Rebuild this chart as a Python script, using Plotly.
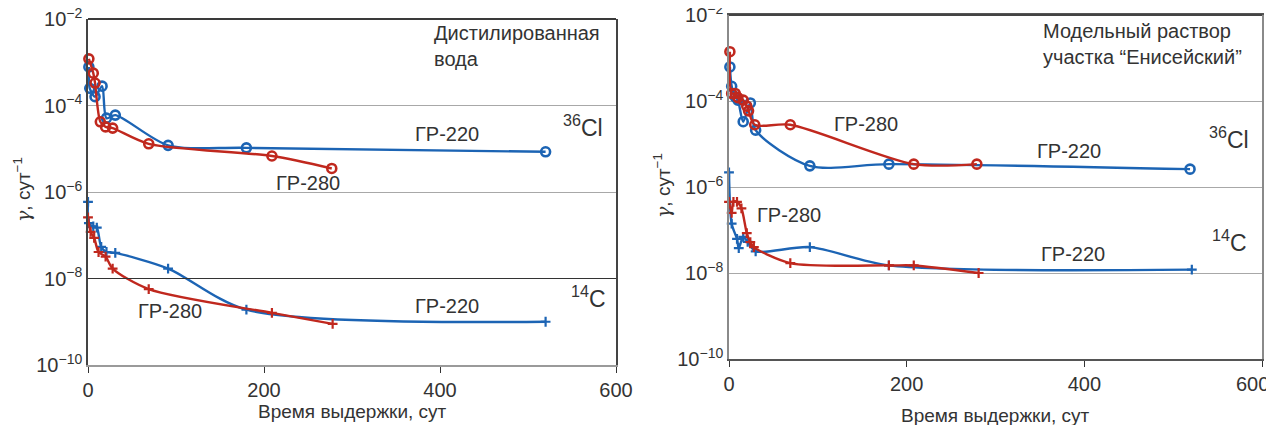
import plotly.graph_objects as go

W, H = 1266, 417   # visible area once the page's 8px body margin is taken off
OFF = 8            # page body margin of the browser

# ---------------- data: left panel (distilled water) ----------------
L_cl220_x = [1, 2, 8, 16, 21, 31, 91, 180, 520]
L_cl220_y = [7.8e-4, 2.5e-4, 1.6e-4, 2.8e-4, 5.1e-5, 6.0e-5, 1.2e-5, 1.05e-5, 8.5e-6]
L_cl280_x = [1, 6, 8, 14, 20, 28, 69, 209, 277]
L_cl280_y = [1.2e-3, 5.6e-4, 3.3e-4, 4.2e-5, 3.2e-5, 3.0e-5, 1.3e-5, 6.8e-6, 3.5e-6]
L_c220_x = [0, 1, 6, 10, 15, 21, 31, 91, 180, 520]
L_c220_y = [5.9e-7, 1.9e-7, 1.6e-7, 1.5e-7, 5.4e-8, 4.1e-8, 3.9e-8, 1.7e-8, 1.9e-9, 1.0e-9]
L_c280_x = [0, 3, 7, 12, 20, 28, 69, 209, 278]
L_c280_y = [2.6e-7, 1.2e-7, 8.7e-8, 4.1e-8, 3.2e-8, 1.7e-8, 5.7e-9, 1.6e-9, 8.9e-10]

# ---------------- data: right panel (model solution) ----------------
R_cl220_x = [1, 3, 7, 10, 16, 24, 30, 91, 180, 519]
R_cl220_y = [6.2e-4, 2.2e-4, 1.25e-4, 1.05e-4, 3.3e-5, 9.0e-5, 2.1e-5, 3.1e-6, 3.4e-6, 2.6e-6]
R_cl280_x = [1, 3, 7, 10, 16, 20, 22, 29, 69, 208, 279]
R_cl280_y = [1.4e-3, 1.5e-4, 1.5e-4, 1.2e-4, 1.05e-4, 7.6e-5, 5.9e-5, 2.8e-5, 2.8e-5, 3.4e-6, 3.4e-6]
R_c220_x = [0, 3, 9, 11, 16, 21, 30, 91, 180, 521]
R_c220_y = [2.2e-6, 1.4e-7, 6.2e-8, 3.8e-8, 6.9e-8, 5.3e-8, 3.2e-8, 4.0e-8, 1.5e-8, 1.2e-8]
R_c280_x = [0, 3, 5, 9, 14, 20, 24, 28, 69, 180, 208, 281]
R_c280_y = [4.5e-7, 2.5e-7, 4.5e-7, 4.5e-7, 3.2e-7, 8.5e-8, 5.2e-8, 4.0e-8, 1.7e-8, 1.5e-8, 1.5e-8, 1.0e-8]

x_ticks = [0, 200, 400, 600]
x_ticktext = ["0", "200", "400", "600"]
x_ticktext_right = ["0", "200", "400", ""]   # last label drawn separately (shifted left as in the source)
y_ticks = [1e-10, 1e-8, 1e-6, 1e-4, 1e-2]
y_ticktext = ["10<sup>−10</sup>", "10<sup>−8</sup>", "10<sup>−6</sup>", "10<sup>−4</sup>", "10<sup>−2</sup>"]

BLUE = "#1c64b4"
RED = "#c0281e"
FONT = "Liberation Sans, Arial, sans-serif"
TXT = "#333333"
FS = 20


def px(xp):
    return (xp - OFF) / W


def py(yp):
    return 1 - (yp - OFF) / H


fig = go.Figure()


def add_series(x, y, color, symbol, xa, ya):
    circ = "circle" in symbol
    fig.add_trace(go.Scatter(
        x=x, y=y, mode="lines+markers", xaxis=xa, yaxis=ya,
        line=dict(color=color, width=2.4, shape="spline", smoothing=0.8),
        marker=dict(symbol=symbol, size=9 if circ else 7,
                    color=color, line=dict(color=color, width=2.6 if circ else 2.2)),
        showlegend=False, hoverinfo="x+y", cliponaxis=False))


add_series(L_cl220_x, L_cl220_y, BLUE, "circle-open", "x", "y")
add_series(L_cl280_x, L_cl280_y, RED, "circle-open", "x", "y")
add_series(L_c220_x, L_c220_y, BLUE, "cross-thin", "x", "y")
add_series(L_c280_x, L_c280_y, RED, "cross-thin", "x", "y")
add_series(R_cl220_x, R_cl220_y, BLUE, "circle-open", "x2", "y2")
add_series(R_cl280_x, R_cl280_y, RED, "circle-open", "x2", "y2")
add_series(R_c220_x, R_c220_y, BLUE, "cross-thin", "x2", "y2")
add_series(R_c280_x, R_c280_y, RED, "cross-thin", "x2", "y2")

xcommon = dict(range=[0, 600], tickmode="array", tickvals=x_ticks, ticks="outside",
               ticklen=6, tickcolor="#333333", showgrid=False, zeroline=False,
               showline=True, automargin=False, ticklabeloverflow="allow",
               tickfont=dict(size=FS, color=TXT, family=FONT))
ycommon = dict(type="log", range=[-10, -2], tickmode="array", tickvals=y_ticks,
               ticktext=y_ticktext, ticks="", showgrid=True, gridcolor="#a8a8a8",
               gridwidth=1, zeroline=False, showline=True, automargin=False,
               ticklabeloverflow="allow",
               tickfont=dict(size=FS, color=TXT, family=FONT))

fig.update_layout(
    width=W, height=H, margin=dict(l=0, r=0, t=0, b=0),
    paper_bgcolor="white", plot_bgcolor="white",
    font=dict(family=FONT, color=TXT),
    xaxis=dict(domain=[px(88), px(616)], anchor="y", linecolor="#9a9a9a", linewidth=2,
               ticktext=x_ticktext, **xcommon),
    yaxis=dict(domain=[py(365), py(19)], anchor="x", linecolor="#444444", linewidth=1.5,
               mirror=True, **ycommon),
    xaxis2=dict(domain=[px(729), px(1262)], anchor="y2", linecolor="#555555", linewidth=1.5,
                mirror=True, ticktext=x_ticktext_right, **xcommon),
    yaxis2=dict(domain=[py(359), py(15)], anchor="x2", linecolor="#8a8a8a", linewidth=1.5,
                mirror=True, **ycommon),
)

# darker 10^-8 gridline on left panel
fig.add_shape(type="line", xref="x", yref="y", x0=0, x1=600, y0=1e-8, y1=1e-8,
              line=dict(color="#333333", width=1.2))
# top borders of both panels
fig.add_shape(type="line", xref="paper", yref="paper", x0=px(88), x1=px(616),
              y0=py(19), y1=py(19), line=dict(color="#3a3a3a", width=2), layer="above")
fig.add_shape(type="line", xref="paper", yref="paper", x0=px(729), x1=px(1262),
              y0=py(15), y1=py(15), line=dict(color="#444444", width=2), layer="above")

ann = []


def text(xp, yp, s, size=FS, xanchor="center", yanchor="middle", align="center", angle=0):
    ann.append(dict(x=px(xp), y=py(yp), xref="paper", yref="paper", text=s,
                    showarrow=False, xanchor=xanchor, yanchor=yanchor, align=align,
                    textangle=angle, font=dict(size=size, color=TXT, family=FONT)))


GAMMA = "<span style='font-family:DejaVu Serif, Liberation Serif, serif'><i>γ</i></span>, сут<sup>−1</sup>"

# left panel texts
text(432, 20, "Дистилированная<br>вода", xanchor="left", yanchor="top", align="left")
text(447, 134, "ГР-220")
text(308, 183, "ГР-280")
text(583, 126, "<sup>36</sup>Cl", size=23)
text(447, 306, "ГР-220")
text(170, 311, "ГР-280")
text(588, 297, "<sup>14</sup>C", size=23)
text(352, 411, "Время выдержки, сут", size=19)
text(22, 190, GAMMA, size=19, angle=-90)

# right panel texts
text(1041, 18, "Модельный раствор<br>участка “Енисейский”", xanchor="left", yanchor="top", align="left")
text(866, 124, "ГР-280")
text(1069, 151, "ГР-220")
text(1229, 138, "<sup>36</sup>Cl", size=23)
text(789, 215, "ГР-280")
text(1073, 254, "ГР-220")
text(1229, 241, "<sup>14</sup>C", size=23)
text(1252, 384, str(x_ticks[-1]))
text(995, 415, "Время выдержки, сут", size=19)
text(662, 186, GAMMA, size=19, angle=-90)

fig.update_layout(annotations=ann)
fig.write_html("out.html")
